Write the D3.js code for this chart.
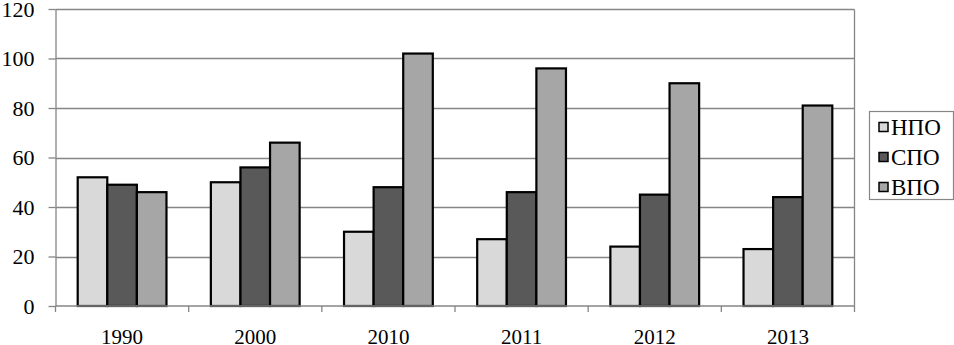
<!DOCTYPE html>
<html><head><meta charset="utf-8">
<script src="https://cdn.jsdelivr.net/npm/d3@7/dist/d3.min.js"></script>
<style>body{margin:0;background:#fff}svg{display:block}</style>
</head><body>
<svg id="c" width="954" height="345"></svg>
<script>
const categories = ["1990","2000","2010","2011","2012","2013"];
const seriesNames = ["НПО","СПО","ВПО"];
const npo = [52,50,30,27,24,23];
const spo = [49,56,48,46,45,44];
const vpo = [46,66,102,96,90,81];
const yTicks = [0,20,40,60,80,100,120];
const colors = ["#d9d9d9","#595959","#a6a6a6"];
const series = [npo, spo, vpo];
const FONT = "'Liberation Serif'";

const svg = d3.select("#c");
const L = 55.5, R = 854.5, T = 9, B = 306;
const x = d3.scaleBand().domain(categories).range([L, R]);
const bw = x.bandwidth()/4.5;
const y = d3.scaleLinear().domain([0,120]).range([B, T]);

svg.append("g").selectAll("line").data(yTicks.filter(d=>d>0)).join("line")
  .attr("x1", L).attr("x2", R).attr("y1", d=>Math.round(y(d))+0.5).attr("y2", d=>Math.round(y(d))+0.5)
  .attr("stroke","#868686").attr("stroke-width",1.3);
svg.append("line").attr("x1",R).attr("x2",R).attr("y1",T+0.5).attr("y2",B).attr("stroke","#868686").attr("stroke-width",1.3);

const g = svg.append("g");
series.forEach((s, i) => {
  g.selectAll(null).data(categories).join("rect")
    .attr("x", (c) => x(c) + x.bandwidth()/2 - 1.5*bw + i*bw)
    .attr("y", (c,j) => y(s[j]))
    .attr("width", bw)
    .attr("height", (c,j) => B - y(s[j]))
    .attr("fill", colors[i]).attr("stroke","#000").attr("stroke-width",2.2);
});

const ya = svg.append("g").attr("transform",`translate(${L},0)`)
  .call(d3.axisLeft(y).tickValues(yTicks).tickSize(7).tickPadding(14).tickSizeOuter(0));
ya.select(".domain").attr("stroke","#868686").attr("stroke-width",1.3);
ya.selectAll(".tick line").attr("stroke","#868686").attr("stroke-width",1.3);
ya.selectAll("text").style("font-family",FONT).style("font-size","22px").attr("fill","#000");

const xa = svg.append("g").attr("transform",`translate(0,${B})`);
xa.append("line").attr("x1",L).attr("x2",R).attr("stroke","#868686").attr("stroke-width",1.3);
const bounds = categories.map(c=>x(c)).concat([R]);
xa.selectAll(".tk").data(bounds).join("line").attr("class","tk")
  .attr("x1",d=>d).attr("x2",d=>d).attr("y1",0).attr("y2",6)
  .attr("stroke","#868686").attr("stroke-width",1.3);
xa.selectAll("text").data(categories).join("text")
  .attr("x", c => x(c)+x.bandwidth()/2).attr("y", 38)
  .attr("text-anchor","middle").style("font-family",FONT).style("font-size","21px").text(c=>c);

const lg = svg.append("g");
lg.append("rect").attr("x",869.5).attr("y",111.5).attr("width",84).attr("height",88)
  .attr("fill","#fff").attr("stroke","#868686").attr("stroke-width",1.2);
seriesNames.forEach((n,i)=>{
  const cy = 127 + i*30;
  lg.append("rect").attr("x",879).attr("y",cy-4.5).attr("width",9).attr("height",9)
    .attr("fill",colors[i]).attr("stroke","#000").attr("stroke-width",1.5);
  lg.append("text").attr("x",891).attr("y",cy+7.5).style("font-family",FONT).style("font-size","23px").text(n);
});
</script>
</body></html>
